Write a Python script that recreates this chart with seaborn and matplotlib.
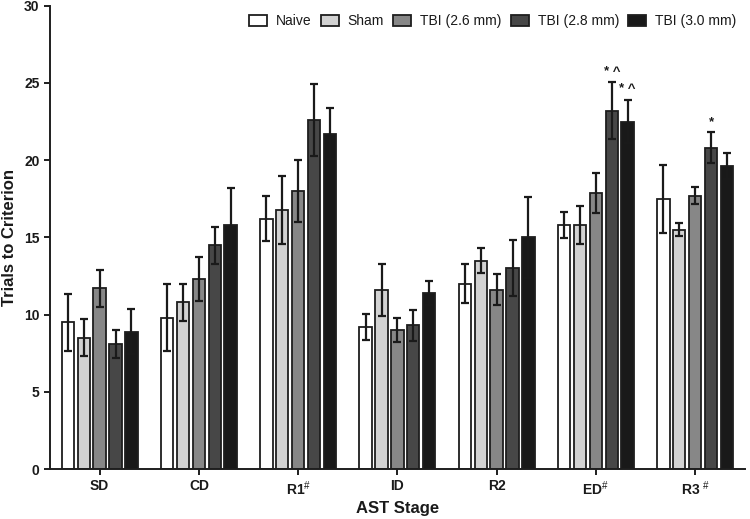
import matplotlib
matplotlib.use("Agg")
import matplotlib.pyplot as plt
import seaborn as sns
import pandas as pd
import numpy as np

stages = ["SD", "CD", "R1", "ID", "R2", "ED", "R3"]
tick_labels = ["SD", "CD", r"R1$^{\#}$", "ID", "R2", r"ED$^{\#}$", r"R3 $^{\#}$"]
groups = ["Naive", "Sham", "TBI (2.6 mm)", "TBI (2.8 mm)", "TBI (3.0 mm)"]

naive = [9.5, 9.8, 16.2, 9.2, 12.0, 15.8, 17.5]
naive_err = [1.85, 2.15, 1.45, 0.85, 1.25, 0.85, 2.2]
sham = [8.5, 10.8, 16.8, 11.6, 13.5, 15.8, 15.5]
sham_err = [1.2, 1.2, 2.2, 1.7, 0.8, 1.2, 0.4]
tbi26 = [11.7, 12.3, 18.0, 9.0, 11.6, 17.9, 17.7]
tbi26_err = [1.2, 1.45, 2.0, 0.8, 1.0, 1.3, 0.55]
tbi28 = [8.1, 14.5, 22.6, 9.3, 13.0, 23.2, 20.8]
tbi28_err = [0.9, 1.2, 2.3, 1.0, 1.8, 1.85, 1.0]
tbi30 = [8.9, 15.8, 21.7, 11.4, 15.0, 22.5, 19.6]
tbi30_err = [1.45, 2.4, 1.65, 0.75, 2.6, 1.4, 0.85]

# significance marks: (stage, group, text)
marks = [("ED", "TBI (2.8 mm)", "* ^"), ("ED", "TBI (3.0 mm)", "* ^"), ("R3", "TBI (2.8 mm)", "*")]

colors = ["#ffffff", "#d2d2d2", "#878787", "#474747", "#191919"]

means = [naive, sham, tbi26, tbi28, tbi30]
errs = [naive_err, sham_err, tbi26_err, tbi28_err, tbi30_err]

rows = []
for g, m, e in zip(groups, means, errs):
    for s, v, ev in zip(stages, m, e):
        rows.append({"stage": s, "group": g, "value": v, "err": ev})
df = pd.DataFrame(rows)

sns.set_style("ticks")
plt.rcParams["font.family"] = ["Liberation Sans", "DejaVu Sans"]
plt.rcParams["mathtext.fontset"] = "custom"
plt.rcParams["mathtext.rm"] = "Liberation Sans"
plt.rcParams["mathtext.it"] = "Liberation Sans"
plt.rcParams["mathtext.bf"] = "Liberation Sans:bold"

fig = plt.figure(figsize=(7.5, 5.19), dpi=100)
ax = fig.add_axes([0.0667, 0.0963, 0.9263, 0.8927])

sns.barplot(data=df, x="stage", y="value", hue="group", order=stages, hue_order=groups,
            palette=colors, edgecolor="#1e1e1e", linewidth=1.3, gap=0.22,
            errorbar=None, saturation=1, ax=ax, zorder=2)

bar_conts = list(ax.containers)
for gi, cont in enumerate(bar_conts):
    g = groups[gi]
    xs, ys, es = [], [], []
    for si, bar in enumerate(cont):
        xs.append(bar.get_x() + bar.get_width() / 2)
        ys.append(bar.get_height())
        es.append(errs[gi][si])
    ax.errorbar(xs, ys, yerr=es, fmt="none", ecolor="#1a1a1a", elinewidth=1.6,
                capsize=3, capthick=1.6, zorder=3)
    for s, mg, txt in marks:
        if mg == g:
            si = stages.index(s)
            ax.text(xs[si], ys[si] + es[si] + 0.3, txt, ha="center", va="bottom",
                    fontsize=9.5, fontweight="bold", color="#1a1a1a")

ax.set_ylim(0, 30)
ax.set_xlim(-0.5, 6.5)
ax.set_yticks([0, 5, 10, 15, 20, 25, 30])
ax.set_xticks(range(len(stages)))
ax.set_xticklabels(tick_labels)
for lab in ax.get_xticklabels() + ax.get_yticklabels():
    lab.set_fontweight("bold")
    lab.set_fontsize(10)
    lab.set_color("#1a1a1a")
ax.set_xlabel("AST Stage", fontsize=12, fontweight="bold", color="#1a1a1a", labelpad=2)
ax.set_ylabel("Trials to Criterion", fontsize=12, fontweight="bold", color="#1a1a1a", labelpad=5)

for sp in ["top", "right"]:
    ax.spines[sp].set_visible(False)
for sp in ["left", "bottom"]:
    ax.spines[sp].set_linewidth(1.4)
    ax.spines[sp].set_color("#1e1e1e")
ax.tick_params(axis="both", width=1.4, color="#1e1e1e", length=4)

leg = ax.legend(ncol=5, loc="upper right", bbox_to_anchor=(1.0, 1.0), frameon=False,
                fontsize=10, handlelength=1.3, handleheight=0.8, columnspacing=0.65,
                handletextpad=0.65, borderaxespad=0.2)
for t in leg.get_texts():
    t.set_color("#1a1a1a")

fig.savefig("out.png", dpi=100)
